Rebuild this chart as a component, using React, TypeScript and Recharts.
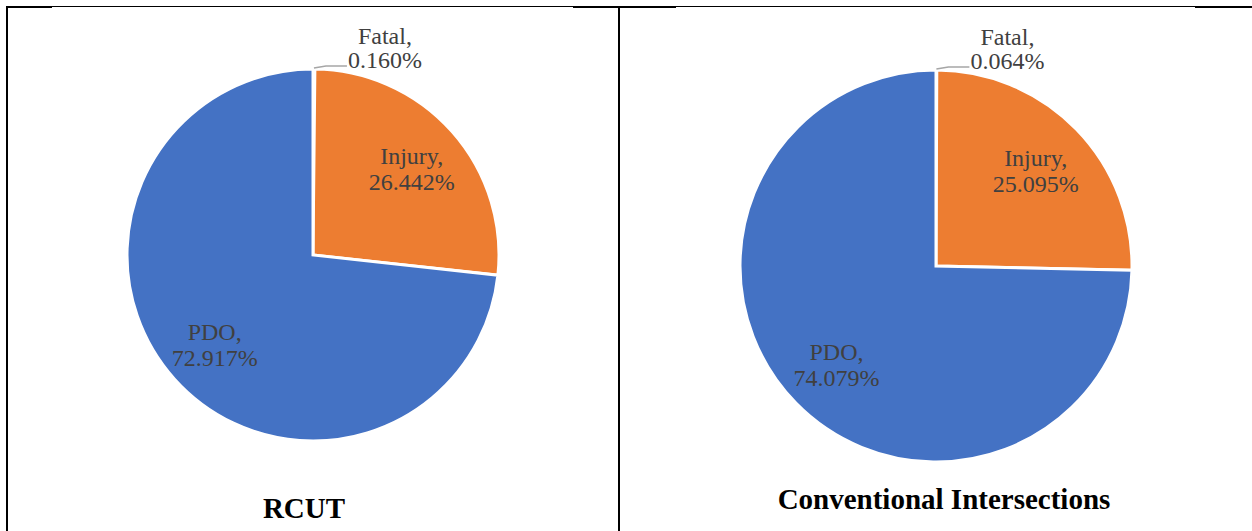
import React from 'react';
import { PieChart, Pie, Cell } from 'recharts';

const categories = ['Fatal', 'Injury', 'PDO'];
const rcutValues = [0.16, 26.442, 72.917];
const conventionalValues = [0.064, 25.095, 74.079];
const chartTitles = ['RCUT', 'Conventional Intersections'];
const colors = ['#A5A5A5', '#ED7D31', '#4472C4'];

const rcutData = categories.map((name, i) => ({ name, value: rcutValues[i] }));
const convData = categories.map((name, i) => ({ name, value: conventionalValues[i] }));

const RADIAN = Math.PI / 180;
const FONT = '"Liberation Serif", "Times New Roman", serif';
const TEXT_COLOR = '#404040';
const FS = 24;

const renderLabel = (props: any) => {
  const { cx, cy, midAngle, outerRadius, index, name, value } = props;
  const txt = `${Number(value).toFixed(3)}%`;
  if (index === 0) {
    const ox = cx + outerRadius * Math.cos(-midAngle * RADIAN);
    const oy = cy + outerRadius * Math.sin(-midAngle * RADIAN);
    const tx = ox + 71;
    return (
      <g>
        <path
          d={`M${ox},${oy - 1} L${ox + 12},${oy - 3} L${ox + 33},${oy - 3}`}
          stroke="#A6A6A6"
          strokeWidth={1.5}
          fill="none"
        />
        <text x={tx} y={oy - 25} textAnchor="middle" fill={TEXT_COLOR} fontFamily={FONT} fontSize={FS}>
          {`${name},`}
        </text>
        <text x={tx} y={oy - 1} textAnchor="middle" fill={TEXT_COLOR} fontFamily={FONT} fontSize={FS}>
          {txt}
        </text>
      </g>
    );
  }
  const r = outerRadius * 0.71;
  const x = cx + r * Math.cos(-midAngle * RADIAN);
  const y = cy + r * Math.sin(-midAngle * RADIAN);
  return (
    <g>
      <text x={x} y={y - 3} textAnchor="middle" fill={TEXT_COLOR} fontFamily={FONT} fontSize={FS}>
        {`${name},`}
      </text>
      <text x={x} y={y + 23} textAnchor="middle" fill={TEXT_COLOR} fontFamily={FONT} fontSize={FS}>
        {txt}
      </text>
    </g>
  );
};

const line = (left: number, top: number, width: number, height: number) => (
  <div style={{ position: 'absolute', left, top, width, height, background: '#000' }} />
);

export default function App() {
  return (
    <div style={{ position: 'absolute', left: 0, top: 0, width: 1252, height: 531, background: '#fff', overflow: 'hidden' }}>
      <div style={{ position: 'absolute', left: 0, top: 0 }}>
        <PieChart width={1252} height={531} margin={{ top: 0, right: 0, bottom: 0, left: 0 }}>
          <Pie
            data={rcutData}
            dataKey="value"
            nameKey="name"
            cx={313}
            cy={255}
            outerRadius={186}
            startAngle={90}
            endAngle={-270}
            stroke="#fff"
            strokeWidth={3}
            label={renderLabel}
            labelLine={false}
            isAnimationActive={false}
          >
            {rcutData.map((d, i) => (
              <Cell key={d.name} fill={colors[i]} />
            ))}
          </Pie>
          <Pie
            data={convData}
            dataKey="value"
            nameKey="name"
            cx={936}
            cy={266}
            outerRadius={196}
            startAngle={90}
            endAngle={-270}
            stroke="#fff"
            strokeWidth={3}
            label={renderLabel}
            labelLine={false}
            isAnimationActive={false}
          >
            {convData.map((d, i) => (
              <Cell key={d.name} fill={colors[i]} />
            ))}
          </Pie>
        </PieChart>
      </div>
      {line(6, 6, 1246, 1)}
      {line(6, 6, 46, 2)}
      {line(573, 6, 103, 2)}
      {line(1195, 6, 57, 2)}
      {line(6, 6, 2, 525)}
      {line(618, 7, 2, 524)}
      <div
        style={{
          position: 'absolute', left: 8, width: 592, top: 490, textAlign: 'center',
          fontFamily: FONT, fontWeight: 'bold', fontSize: 29, color: '#000', lineHeight: '36px',
        }}
      >
        {chartTitles[0]}
      </div>
      <div
        style={{
          position: 'absolute', left: 620, width: 648, top: 481, textAlign: 'center',
          fontFamily: FONT, fontWeight: 'bold', fontSize: 29, color: '#000', lineHeight: '36px',
        }}
      >
        {chartTitles[1]}
      </div>
    </div>
  );
}
